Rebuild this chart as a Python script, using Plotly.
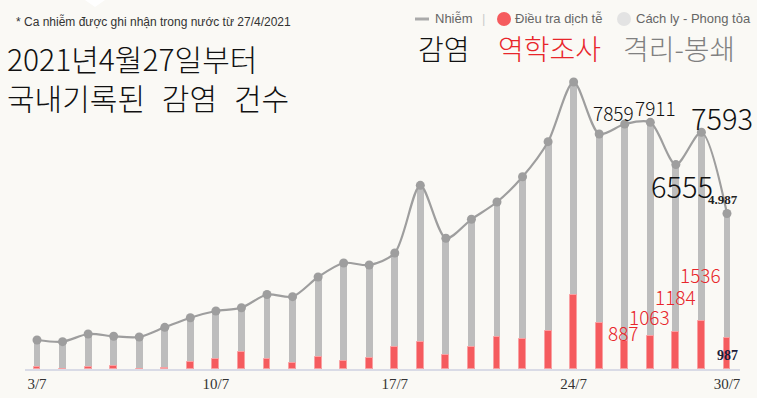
import plotly.graph_objects as go

dates = ["3/7", "4/7", "5/7", "6/7", "7/7", "8/7", "9/7", "10/7", "11/7", "12/7",
         "13/7", "14/7", "15/7", "16/7", "17/7", "18/7", "19/7", "20/7", "21/7", "22/7",
         "23/7", "24/7", "25/7", "26/7", "27/7", "28/7", "29/7", "30/7"]
total_cases = [930, 876, 1122, 1049, 1026, 1337, 1645, 1860, 1966, 2389,
               2319, 2950, 3400, 3335, 3720, 5891, 4192, 4801, 5356, 6167,
               7290, 9204, 7536, 7859, 7911, 6555, 7593, 4987]
epi_cases = [64, 0, 64, 106, 0, 42, 215, 321, 535, 321,
             183, 385, 247, 353, 706, 876, 459, 706, 1026, 952,
             1229, 2363, 1475, 887, 1063, 1184, 1536, 987]
tick_vals = ["3/7", "10/7", "17/7", "24/7", "30/7"]

BG = "#faf9f5"
GRAY_BAR = "#bdbdbd"
LINE = "#9e9e9e"
RED = "#f55b5e"
RED_TXT = "#e8262b"
KR = "Noto Sans CJK KR"
VN = "Liberation Sans"
SERIF = "Liberation Serif"

# plot area in pixels: x 25..740, y 60..369
L, R, T, B = 25, 740, 60, 369
def px(X):
    return (X - L) / (R - L)
def py(Y):
    return (B - Y) / (B - T)

fig = go.Figure()
fig.add_trace(go.Bar(x=dates, y=total_cases, width=0.27, marker_color=GRAY_BAR,
                     marker_line_width=0, hoverinfo="skip", name="Cách ly - Phong tỏa"))
fig.add_trace(go.Bar(x=dates, y=epi_cases, width=0.27, marker_color=RED,
                     marker_line=dict(color="#f9a0a2", width=1), name="Điều tra dịch tễ"))
fig.add_trace(go.Scatter(x=dates, y=total_cases, mode="lines+markers",
                         line=dict(color=LINE, width=2.2, shape="spline", smoothing=0.8),
                         marker=dict(color=LINE, size=9), name="Nhiễm"))

ann = []
def add(text, X, Y, size, color, family, xanchor="center", weight="normal"):
    ann.append(dict(text=text, x=px(X), y=py(Y), xref="paper", yref="paper",
                    xanchor=xanchor, yanchor="middle", showarrow=False, align="left",
                    font=dict(size=size, color=color, family=family, weight=weight)))

add("* Ca nhiễm được ghi nhận trong nước từ 27/4/2021", 14, 21, 12, "#333333", VN, "left")
add("2021년4월27일부터<br>국내기록된\u2002\u200a감염\u2002\u200a건수", 5, 77.5, 30, "#111111", KR, "left", 300)

add("Nhiễm", 433, 19, 13, "#666666", VN, "left")
add("|", 483, 18, 13, "#cccccc", VN, "center")
add("Điều tra dịch tễ", 513, 19, 13, "#666666", VN, "left")
add("Cách ly - Phong tỏa", 634, 19, 13, "#666666", VN, "left")

add("감염", 416, 48, 28, "#111111", KR, "left", 300)
add("역학조사", 496, 48, 28, RED_TXT, KR, "left", 300)
add("격리-봉쇄", 621, 48, 28, "#808080", KR, "left", 300)

add("7859", 613, 112, 19, "#111111", KR, weight=300)
add("7911", 655, 107, 19, "#111111", KR, weight=300)
add("7593", 722, 117, 29, "#111111", KR, weight=300)
add("6555", 682, 185, 29, "#111111", KR, weight=300)
add("4.987", 723, 200, 13, "#222222", SERIF, weight="bold")
add("987", 727, 355, 14, "#1c1c3a", SERIF, weight="bold")

add("887", 623, 332, 19, RED_TXT, KR, weight=300)
add("1063", 649, 316, 19, RED_TXT, KR, weight=300)
add("1184", 675, 296, 19, RED_TXT, KR, weight=300)
add("1536", 700, 274, 19, RED_TXT, KR, weight=300)

shapes = [
    dict(type="line", xref="paper", yref="paper", x0=px(415), x1=px(429), y0=py(19), y1=py(19),
         line=dict(color="#aaaaaa", width=3)),
    dict(type="circle", xref="paper", yref="paper", x0=px(497), x1=px(511), y0=py(26), y1=py(12),
         fillcolor="#f55b5e", line=dict(width=0)),
    dict(type="circle", xref="paper", yref="paper", x0=px(617), x1=px(631), y0=py(26), y1=py(12),
         fillcolor="#e3e3e3", line=dict(width=0)),
    dict(type="path", xref="paper", yref="paper",
         path=f"M {px(85)} {py(0)} L {px(105)} {py(0)} L {px(95)} {py(7)} Z",
         fillcolor="#ffffff", line=dict(width=0)),
]

fig.update_layout(
    width=757, height=398,
    margin=dict(l=L, r=757 - R, t=T, b=398 - B),
    paper_bgcolor=BG, plot_bgcolor=BG,
    barmode="overlay", bargap=0,
    showlegend=False,
    annotations=ann, shapes=shapes,
    xaxis=dict(type="category", range=[-0.47, 27.51], tickvals=tick_vals, ticktext=tick_vals,
               automargin=False,
               showgrid=False, zeroline=False, showline=True, linecolor="#d9dbe6", linewidth=2,
               ticks="", tickfont=dict(family=SERIF, size=15, color="#333333")),
    yaxis=dict(range=[0, 9910], visible=False, showgrid=False, zeroline=False, automargin=False),
)

fig.write_html("out.html", config={"displayModeBar": False},
               post_script="document.body.style.margin='0';document.body.style.overflow='hidden';")
